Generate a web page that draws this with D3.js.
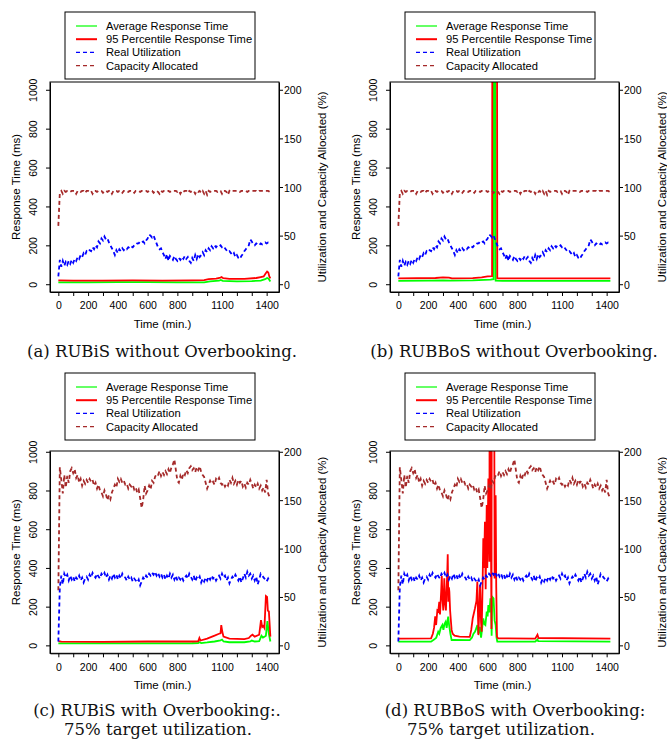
<!DOCTYPE html>
<html>
<head>
<meta charset="utf-8">
<script src="https://cdn.jsdelivr.net/npm/d3@7"></script>
<style>
  body { margin: 0; background: #fff; }
  svg { display: block; }
  .tick-label, .axis-title, .legend-text { font-family: "Liberation Sans", Arial, sans-serif; fill: #000; }
  .caption { font-family: "DejaVu Serif", serif; font-size: 16.5px; fill: #111; }
</style>
</head>
<body>
<svg id="chart" width="667" height="747"></svg>
<script>
// x axis ticks every 100 min, only some are labelled
var xTicks = d3.range(0, 1401, 100);
var xTickLabels = [0, 200, 400, 600, 800, 1100, 1400];
var leftTicks = [0, 200, 400, 600, 800, 1000];
var rightTicks = [0, 50, 100, 150, 200];

var legendLabels = ["Average Response Time", "95 Percentile Response Time", "Real Utilization", "Capacity Allocated"];

// utilization / capacity (%), one value every 10 minutes
var utilNoOver = [8, 25, 18, 24, 19, 23, 20,
  24, 21, 25, 22, 26, 24, 28, 26, 30, 28,
  32, 30, 34, 33, 35, 34, 38, 36, 40, 38,
  44, 42, 47, 45, 49, 46, 47, 43, 40, 37,
  34, 30, 35, 32, 36, 34, 37, 35, 37, 36,
  38, 37, 39, 38, 40, 40, 42, 42, 44, 43,
  44, 42, 45, 47, 51, 50, 48, 50, 46, 42,
  38, 36, 37, 33, 30, 26, 31, 24, 29, 27,
  25, 29, 26, 24, 27, 25, 28, 26, 29, 26,
  28, 24, 22, 27, 24, 30, 26, 31, 28, 30,
  33, 30, 35, 33, 37, 35, 39, 37, 40, 38,
  40, 39, 40, 38, 39, 37, 35, 33, 34, 32,
  30, 32, 28, 30, 27, 26, 29, 31, 34, 36,
  38, 40, 46, 44, 41, 40, 42, 41, 40, 42,
  41, 42, 43, 42, 43, 43, 44];

var capNoOver = [60, 94, 96, 93, 96, 95, 96, 96, 95, 96, 96, 96, 93, 96, 96, 95, 96, 96, 94, 96,
  96, 95, 96, 93, 96, 96, 95, 96, 96, 96, 94, 96, 96, 95, 96, 96, 93, 96, 96, 96,
  95, 96, 96, 94, 96, 96, 96, 95, 96, 96, 96, 94, 96, 96, 96, 95, 96, 96, 96, 96,
  95, 96, 96, 96, 94, 96, 96, 95, 93, 96, 95, 96, 96, 96, 96, 95, 96, 96, 96, 96,
  95, 96, 93, 96, 95, 96, 96, 94, 96, 95, 96, 96, 93, 96, 95, 96, 94, 96, 93, 96,
  92, 96, 95, 96, 96, 96, 96, 95, 96, 96, 93, 96, 96, 95, 92, 96, 95, 96, 96, 96,
  96, 96, 95, 96, 96, 96, 96, 95, 96, 96, 96, 96, 96, 96, 95, 96, 96, 96, 96, 96,
  96, 96, 95, 96];

var utilOver = [4, 60, 72, 63, 74, 70, 73, 67, 72, 68, 71, 66, 70, 68, 72, 67, 70, 65, 69, 71,
  68, 73, 70, 75, 72, 70, 74, 71, 69, 74, 72, 75, 70, 73, 68, 72, 69, 74, 70, 73,
  68, 72, 69, 74, 71, 70, 67, 71, 68, 70, 66, 69, 67, 65, 68, 62, 66, 70, 68, 72,
  70, 74, 72, 75, 73, 76, 72, 75, 71, 74, 70, 73, 68, 72, 69, 74, 70, 73, 68, 72,
  67, 70, 68, 71, 67, 70, 72, 69, 74, 71, 68, 72, 66, 70, 68, 71, 65, 69, 66, 70,
  67, 71, 68, 72, 69, 71, 67, 70, 72, 69, 74, 70, 72, 67, 70, 64, 68, 71, 69, 73,
  70, 67, 71, 65, 69, 74, 70, 76, 72, 74, 69, 72, 67, 71, 63, 68, 74, 72, 70, 68,
  66, 69, 66];

var capOver = [57, 184, 171, 157, 176, 163, 175, 168, 180, 183, 178, 182, 173, 176, 168, 172, 165, 170, 167, 171,
  168, 172, 169, 171, 165, 168, 162, 166, 160, 158, 154, 160, 156, 150, 155, 151, 158, 162, 166, 163,
  172, 169, 172, 168, 170, 166, 167, 162, 166, 164, 166, 161, 163, 158, 161, 152, 142, 150, 165, 157,
  160, 165, 161, 170, 168, 174, 177, 176, 180, 175, 179, 176, 180, 177, 182, 178, 184, 187, 192, 181,
  170, 168, 175, 171, 178, 176, 181, 178, 183, 185, 181, 183, 179, 184, 181, 185, 179, 176, 174, 168,
  162, 166, 170, 167, 169, 166, 172, 170, 173, 168, 166, 168, 164, 167, 165, 171, 168, 173, 167, 170,
  166, 171, 168, 170, 164, 167, 163, 168, 166, 171, 167, 162, 166, 163, 167, 162, 165, 160, 163, 158,
  171, 157, 153];

// response times (ms) as [minute, value]
var avgA = [[0, 10], [200, 10], [400, 11], [600, 11], [800, 10], [980, 10], [1020, 15], [1080, 18], [1092, 22],
  [1105, 17], [1200, 15], [1300, 16], [1360, 19], [1390, 26], [1403, 32], [1413, 28], [1425, 14]];
var p95A = [[0, 20], [100, 19], [300, 18], [500, 20], [700, 19], [900, 20], [980, 21], [1010, 26], [1060, 29],
  [1090, 34], [1097, 37], [1108, 31], [1150, 28], [1250, 28], [1330, 32], [1360, 37], [1380, 40], [1393, 55],
  [1403, 65], [1411, 60], [1418, 40], [1425, 30]];

var avgB = [[0, 17], [200, 18], [300, 20], [350, 19], [500, 20], [620, 24], [640, 26], [646, 3000], [648, 3000],
  [654, 19], [700, 17], [1425, 17]];
var p95B = [[0, 30], [250, 32], [300, 35], [340, 34], [360, 30], [500, 31], [560, 35], [600, 40], [630, 42],
  [634, 3000], [661, 3000], [665, 30], [700, 30], [1425, 30]];

var avgC = [[0, 10], [300, 10], [600, 10], [900, 11], [940, 12], [950, 16], [960, 12], [1000, 15], [1050, 20],
  [1090, 26], [1100, 30], [1110, 20], [1150, 16], [1250, 16], [1290, 20], [1300, 25], [1320, 20], [1350, 22],
  [1365, 50], [1375, 40], [1385, 45], [1395, 50], [1405, 125], [1415, 60], [1425, 20]];
var p95C = [[0, 22], [20, 19], [300, 18], [600, 20], [900, 20], [940, 21], [948, 38], [955, 25], [1000, 35],
  [1050, 50], [1080, 60], [1090, 62], [1095, 105], [1102, 70], [1110, 45], [1150, 35], [1250, 32], [1280, 38],
  [1295, 50], [1305, 55], [1320, 45], [1350, 55], [1362, 130], [1370, 95], [1378, 100], [1385, 90], [1395, 255],
  [1403, 250], [1408, 180], [1415, 175], [1425, 45]];

var avgD = [[0, 19], [220, 19], [240, 30], [255, 40], [268, 70], [275, 60], [285, 90], [296, 105], [303, 80],
  [310, 110], [318, 122], [325, 90], [335, 148], [342, 100], [350, 60], [358, 27], [370, 28], [480, 27], [495, 40],
  [505, 60], [515, 70], [525, 90], [531, 105], [538, 60], [548, 95], [556, 40], [565, 100], [571, 139], [578, 110],
  [585, 105], [594, 174], [600, 150], [605, 208], [612, 170], [619, 243], [624, 200], [627, 50], [631, 251],
  [640, 243], [647, 129], [654, 105], [660, 40], [665, 20], [920, 19], [935, 30], [940, 22], [1425, 19]];
var p95D = [[0, 35], [220, 36], [232, 60], [240, 90], [248, 150], [254, 105], [262, 180], [268, 175], [275, 225],
  [280, 160], [288, 280], [292, 360], [296, 250], [302, 180], [309, 346], [314, 220], [320, 180], [324, 277],
  [329, 380], [332, 470], [336, 225], [340, 300], [343, 277], [348, 180], [352, 139], [358, 80], [365, 60],
  [378, 50], [411, 45], [480, 44], [490, 80], [500, 140], [515, 191], [525, 230], [531, 330], [538, 53], [545, 200],
  [549, 311], [556, 120], [560, 70], [566, 300], [571, 553], [576, 400], [582, 639], [587, 290], [594, 725],
  [598, 400], [605, 862], [610, 550], [612, 432], [616, 3000], [622, 604], [626, 85], [630, 3000], [640, 3000],
  [647, 346], [650, 700], [654, 776], [658, 300], [663, 45], [670, 36], [920, 35], [935, 55], [942, 38], [1425, 35]];

var captions = [
  ["(a) RUBiS without Overbooking."],
  ["(b) RUBBoS without Overbooking."],
  ["(c) RUBiS with Overbooking:.", "75% target utilization."],
  ["(d) RUBBoS with Overbooking:", "75% target utilization."]
];

var colors = { avg: "#00ff00", p95: "#ff0000", util: "#0000ff", cap: "#a52a2a" };

var panels = [
  { dx: 0,   top: 0, avg: avgA, p95: p95A, util: utilNoOver, cap: capNoOver, caption: captions[0], capX: [162], capY: [357] },
  { dx: 340, top: 0, avg: avgB, p95: p95B, util: utilNoOver, cap: capNoOver, caption: captions[1], capX: [514], capY: [357] },
  { dx: 0,   top: 1, avg: avgC, p95: p95C, util: utilOver, cap: capOver, caption: captions[2], capX: [157, 158], capY: [716, 735] },
  { dx: 340, top: 1, avg: avgD, p95: p95D, util: utilOver, cap: capOver, caption: captions[3], capX: [515, 501], capY: [716, 735] }
];

// layout of the two rows
var rows = [
  { legendY: 12, legendH: 67, boxTop: 82, boxBottom: 292, yDom: [-40, 1040], rDom: [-8, 208], xLabY: 305, xTitleY: 324 },
  { legendY: 373, legendH: 67, boxTop: 451, boxBottom: 653.3, yDom: [-41, 1004], rDom: [-8.2, 200.8], xLabY: 666.5, xTitleY: 685 }
];

var svg = d3.select("#chart");
svg.append("rect").attr("width", 667).attr("height", 747).attr("fill", "#fff");

function drawPanel(p, idx) {
  var row = rows[p.top];
  var left = 50 + p.dx, right = 279 + p.dx;
  var g = svg.append("g");

  var x = d3.scaleLinear().domain([-56, 1483]).range([left, right]);
  var y = d3.scaleLinear().domain(row.yDom).range([row.boxBottom, row.boxTop]);
  var y2 = d3.scaleLinear().domain(row.rDom).range([row.boxBottom, row.boxTop]);

  var clipId = "clip" + idx;
  g.append("clipPath").attr("id", clipId)
    .append("rect")
    .attr("x", left).attr("y", row.boxTop)
    .attr("width", right - left).attr("height", row.boxBottom - row.boxTop);

  var plot = g.append("g").attr("clip-path", "url(#" + clipId + ")");

  var respLine = d3.line().x(d => x(d[0])).y(d => y(d[1]));
  var pctLine = d3.line().x((d, i) => x(i * 10)).y(d => y2(d));

  plot.append("path").datum(p.avg).attr("d", respLine)
    .attr("fill", "none").attr("stroke", colors.avg).attr("stroke-width", 1.8);
  plot.append("path").datum(p.p95).attr("d", respLine)
    .attr("fill", "none").attr("stroke", colors.p95).attr("stroke-width", 1.8);
  plot.append("path").datum(p.util).attr("d", pctLine)
    .attr("fill", "none").attr("stroke", colors.util).attr("stroke-width", 1.8)
    .attr("stroke-dasharray", "4,3");
  plot.append("path").datum(p.cap).attr("d", pctLine)
    .attr("fill", "none").attr("stroke", colors.cap).attr("stroke-width", 1.8)
    .attr("stroke-dasharray", "4,3");

  // box
  g.append("rect")
    .attr("x", left).attr("y", row.boxTop)
    .attr("width", right - left).attr("height", row.boxBottom - row.boxTop)
    .attr("fill", "none").attr("stroke", "#000").attr("stroke-width", 1);

  var fmt = d3.format("d");

  // bottom axis
  var xAxis = d3.axisBottom(x).tickValues(xTicks).tickSize(4).tickSizeOuter(0)
    .tickFormat(d => xTickLabels.indexOf(d) >= 0 ? fmt(d) : "");
  var gx = g.append("g").attr("transform", "translate(0," + row.boxBottom + ")").call(xAxis);
  gx.selectAll("text").attr("class", "tick-label").attr("font-size", 10.5).attr("y", 0)
    .attr("dy", null).attr("transform", "translate(0," + (row.xLabY - row.boxBottom) + ")")
    .attr("dominant-baseline", "central");

  // left axis, labels rotated like R
  var yAxis = d3.axisLeft(y).tickValues(leftTicks).tickSize(4).tickSizeOuter(0).tickFormat(fmt);
  var gy = g.append("g").attr("transform", "translate(" + left + ",0)").call(yAxis);
  gy.selectAll("text").attr("class", "tick-label").attr("font-size", 10.5)
    .attr("x", 0).attr("dy", null).attr("text-anchor", "middle")
    .attr("dominant-baseline", "central")
    .attr("transform", "translate(-17,0) rotate(-90)");

  // right axis
  var rAxis = d3.axisRight(y2).tickValues(rightTicks).tickSize(4).tickSizeOuter(0).tickFormat(fmt);
  var gr = g.append("g").attr("transform", "translate(" + right + ",0)").call(rAxis);
  gr.selectAll("text").attr("class", "tick-label").attr("font-size", 10.5)
    .attr("x", 5).attr("dy", null).attr("dominant-baseline", "central");

  [gx, gy, gr].forEach(a => {
    a.attr("font-family", null).attr("font-size", null);
    a.select(".domain").attr("stroke", "#000");
  });

  // axis titles
  var midY = (row.boxTop + row.boxBottom) / 2;
  g.append("text").attr("class", "axis-title").attr("font-size", 11.5)
    .attr("text-anchor", "middle").attr("dominant-baseline", "central")
    .attr("transform", "translate(" + (x(700)) + "," + row.xTitleY + ")")
    .text("Time (min.)");
  g.append("text").attr("class", "axis-title").attr("font-size", 11.5)
    .attr("text-anchor", "middle").attr("dominant-baseline", "central")
    .attr("transform", "translate(" + (16 + p.dx) + "," + midY + ") rotate(-90)")
    .text("Response Time (ms)");
  g.append("text").attr("class", "axis-title").attr("font-size", 11.5)
    .attr("text-anchor", "middle").attr("dominant-baseline", "central")
    .attr("transform", "translate(" + (322 + p.dx) + "," + midY + ") rotate(-90)")
    .text("Utilization and Capacity Allocated (%)");

  // legend
  var lx = 65 + p.dx, ly = row.legendY;
  g.append("rect").attr("x", lx).attr("y", ly).attr("width", 190).attr("height", row.legendH)
    .attr("fill", "#fff").attr("stroke", "#000").attr("stroke-width", 1);
  var keys = ["avg", "p95", "util", "cap"];
  keys.forEach((k, i) => {
    var ry = ly + 14 + i * 13.2;
    g.append("line").attr("x1", lx + 11).attr("x2", lx + 32).attr("y1", ry).attr("y2", ry)
      .attr("stroke", colors[k])
      .attr("stroke-width", k === "p95" ? 2 : 1.2)
      .attr("stroke-dasharray", (k === "util" || k === "cap") ? "4,3" : null);
    g.append("text").attr("class", "legend-text").attr("font-size", 11.2)
      .attr("x", lx + 41).attr("y", ry).attr("dominant-baseline", "central")
      .text(legendLabels[i]);
  });

  // caption
  p.caption.forEach((line, i) => {
    g.append("text").attr("class", "caption")
      .attr("x", p.capX[i]).attr("y", p.capY[i]).attr("text-anchor", "middle")
      .text(line);
  });
}

panels.forEach(drawPanel);
</script>
</body>
</html>
